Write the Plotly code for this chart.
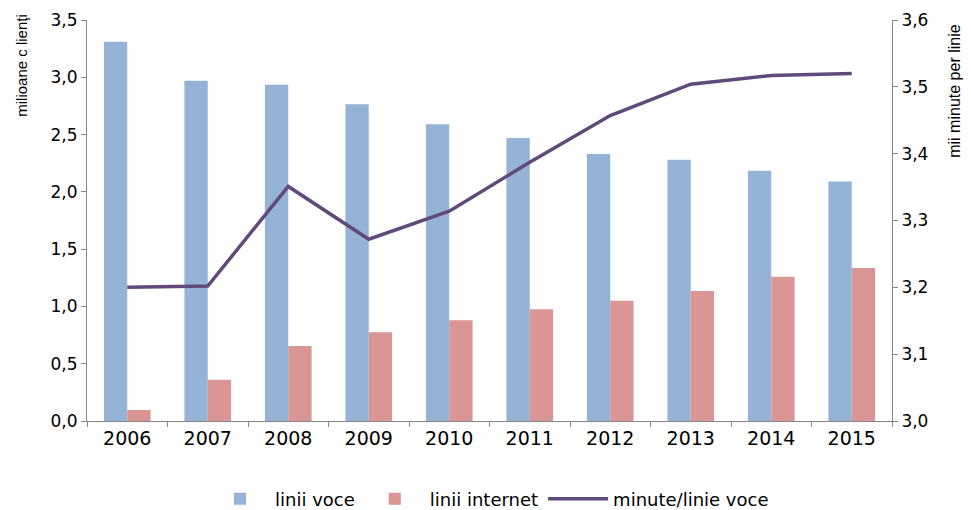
import plotly.graph_objects as go

years = ["2006", "2007", "2008", "2009", "2010", "2011", "2012", "2013", "2014", "2015"]
linii_voce = [3.31, 2.97, 2.935, 2.765, 2.59, 2.47, 2.33, 2.28, 2.185, 2.09]
linii_internet = [0.096, 0.36, 0.655, 0.775, 0.88, 0.975, 1.05, 1.135, 1.26, 1.335]
minute_linie = [3.200, 3.202, 3.351, 3.272, 3.314, 3.387, 3.457, 3.504, 3.517, 3.520]

left_title = "milioane c lienţi"
right_title = "mii minute per linie"

FONT = "DejaVu Sans"
TFONT = "Liberation Sans"
AXC = "#868686"

fig = go.Figure()
fig.add_trace(go.Bar(x=years, y=linii_voce, name="linii voce",
                     marker=dict(color="#95B3D7", line=dict(width=0))))
fig.add_trace(go.Bar(x=years, y=linii_internet, name="linii internet",
                     marker=dict(color="#D99694", line=dict(width=0))))
fig.add_trace(go.Scatter(x=years, y=minute_linie, name="minute/linie voce", yaxis="y2",
                         mode="lines", line=dict(color="#604A7B", width=3.5)))

# page body has an 8px margin, so the figure is sized/offset to compensate
fig.update_layout(
    width=963, height=502,
    margin=dict(l=79, r=79, t=12, b=89, autoexpand=False),
    paper_bgcolor="white", plot_bgcolor="white",
    separators=",.",
    barmode="group", bargap=0.42, bargroupgap=0,
    font=dict(family=FONT, size=17, color="black"),
    showlegend=True,
    legend=dict(orientation="h", x=0.5, xanchor="center", y=-0.1945, yanchor="middle",
                font=dict(family=FONT, size=18), traceorder="normal",
                itemwidth=60, tracegroupgap=0),
    xaxis=dict(type="category", showline=True, linecolor=AXC, linewidth=1,
               ticks="outside", tickson="boundaries", ticklen=5, tickcolor=AXC,
               showgrid=False, tickfont=dict(size=19), automargin=False),
    yaxis=dict(range=[0, 3.5], dtick=0.5, tickformat=".1f", showline=True,
               linecolor=AXC, linewidth=1, ticks="outside", ticklen=5, tickcolor=AXC,
               showgrid=False, zeroline=False, tickfont=dict(size=17), automargin=False),
    yaxis2=dict(range=[3.0, 3.6], dtick=0.1, tickformat=".1f", overlaying="y", side="right",
                showline=True, linecolor=AXC, linewidth=1, ticks="outside", ticklen=5,
                tickcolor=AXC, showgrid=False, zeroline=False, tickfont=dict(size=17),
                automargin=False),
    annotations=[
        dict(text=left_title, textangle=-90, xref="paper", yref="paper",
             x=-0.0807, y=0.886, xanchor="center", yanchor="middle", showarrow=False,
             font=dict(family=TFONT, size=15)),
        dict(text=right_title, textangle=-90, xref="paper", yref="paper",
             x=1.078, y=0.823, xanchor="center", yanchor="middle", showarrow=False,
             font=dict(family=TFONT, size=16)),
    ],
)

fig.write_html("out.html")
